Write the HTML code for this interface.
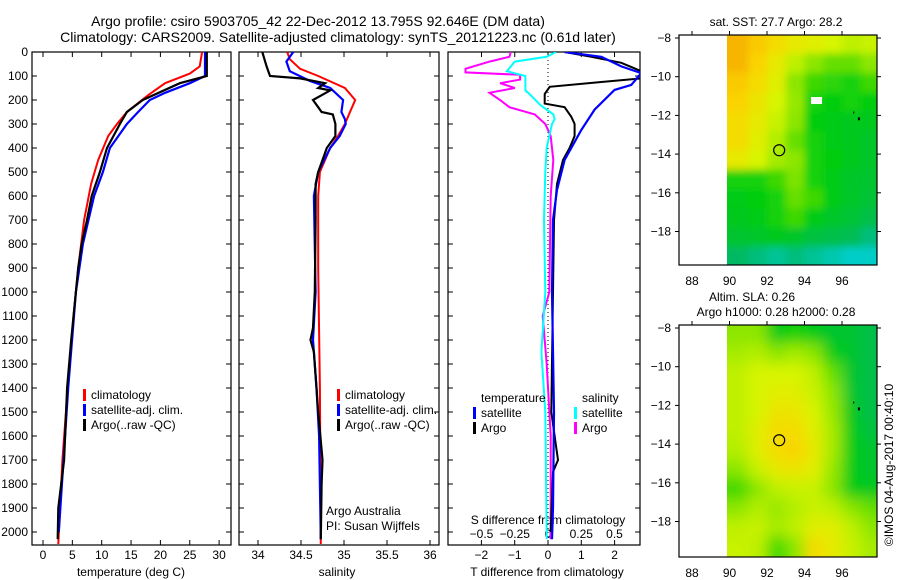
<!DOCTYPE html>
<html><head><meta charset="utf-8">
<style>
body{margin:0;background:#fff;}
svg{display:block;font-family:"Liberation Sans",sans-serif;}
text{fill:#000;}
</style></head>
<body>
<svg id="c" width="900" height="580" xmlns="http://www.w3.org/2000/svg">
<text x="318" y="26" font-size="14" text-anchor="middle">Argo profile: csiro 5903705_42 22-Dec-2012 13.795S 92.646E (DM data)</text>
<text x="338" y="42" font-size="14" text-anchor="middle">Climatology: CARS2009. Satellite-adjusted climatology: synTS_20121223.nc (0.61d later)</text>
<text x="776" y="26" font-size="12" text-anchor="middle">sat. SST: 27.7 Argo: 28.2</text>
<text x="752" y="301" font-size="12" text-anchor="middle">Altim. SLA: 0.26</text>
<text x="776" y="316" font-size="12" text-anchor="middle">Argo h1000: 0.28 h2000: 0.28</text>
<text transform="translate(893,465) rotate(-90)" font-size="12" text-anchor="middle">©IMOS 04-Aug-2017 00:40:10</text>
</svg>
<script>
// ---------- data ----------
const depthTicks=[0,100,200,300,400,500,600,700,800,900,1000,1100,1200,1300,1400,1500,1600,1700,1800,1900,2000];
const tempTicks=[0,5,10,15,20,25,30];
const salTicks=[34,34.5,35,35.5,36];
const tdiffTicks=[-2,-1,0,1,2];
const sdiffTicks=[-0.5,-0.25,0,0.25,0.5];
const sdiffLabels=["-0.5","-0.25","0","0.25","0.5"];

const tArgoDepth=[0,100,130,200,250,300,400,500,600,700,800,900,1000,1200,1400,1700,1900,2030];
const tArgo=[27.9,27.9,23.3,17.0,14.3,13.1,10.9,9.7,8.3,7.5,6.6,6.0,5.6,4.8,4.1,3.6,2.6,2.5];
const tClimDepth=[0,60,90,130,180,250,300,350,450,550,700,900,1100,1400,1700,2050];
const tClim=[27.1,26.7,25.0,20.8,17.9,14.3,12.6,11.1,9.4,8.2,7.0,6.0,5.2,4.2,3.3,2.6];
const tSatDepth=[0,100,130,170,200,250,300,400,500,600,800,1000,1400,1700,2000];
const tSat=[27.6,27.6,25.0,20.8,18.2,16.2,14.3,11.4,10.2,8.7,6.8,5.6,4.3,3.5,2.7];

const sArgoDepth=[0,60,100,110,130,150,160,200,230,250,260,300,350,400,500,550,700,1000,1150,1200,1250,1500,1700,1800,2030];
const sArgo=[34.05,34.10,34.14,34.49,34.78,34.70,34.84,34.64,34.70,34.74,34.87,34.90,34.90,34.80,34.70,34.67,34.67,34.66,34.64,34.61,34.65,34.70,34.75,34.74,34.73];
const sClimDepth=[0,30,70,100,150,200,250,300,350,400,500,600,900,1400,2050];
const sClim=[34.34,34.37,34.49,34.70,35.01,35.13,35.07,35.01,34.93,34.84,34.72,34.70,34.70,34.72,34.73];
const sSatDepth=[0,40,80,120,150,200,250,280,300,350,400,500,600,1000,1200,1400,1600,2030];
const sSat=[34.41,34.33,34.37,34.60,34.84,34.99,34.97,35.01,35.02,34.95,34.84,34.70,34.65,34.67,34.64,34.68,34.71,34.73];

const dTSatDepth=[0,20,60,88,137,158,240,325,450,575,700,1000,1500,1900,2030];
const dTSat=[0.5,1.6,2.2,2.8,2.5,2.0,1.4,1.0,0.5,0.27,0.15,0.12,0.18,0.15,0.12];
const dTArgoDepth=[0,20,45,80,110,125,145,175,215,230,270,300,350,400,450,550,700,1000,1500,1650,1700,1750,2000];
const dTArgo=[0.5,1.3,2.2,2.8,2.8,1.6,0.05,-0.1,-0.1,0.5,0.7,0.8,0.8,0.65,0.45,0.27,0.18,0.15,0.1,0.25,0.3,0.15,0.08];
const dSSatDepth=[0,20,40,80,100,130,160,180,220,260,280,300,350,400,500,700,1000,1250,1500,2030];
const dSSat=[0.06,-0.01,-0.25,-0.31,-0.17,-0.17,-0.17,-0.13,-0.06,0.04,0.05,0.03,0.01,-0.01,-0.02,-0.03,-0.02,-0.05,-0.02,-0.01];
const dSArgoDepth=[0,20,40,70,85,95,115,130,150,170,200,230,260,300,350,450,600,1000,1100,1300,1600,2030];
const dSArgo=[-0.28,-0.29,-0.44,-0.62,-0.62,-0.21,-0.21,-0.36,-0.25,-0.44,-0.36,-0.29,-0.10,-0.02,0.02,0.04,0.02,0.01,-0.04,-0.01,0.02,0.02];

const mapLonTicks=[88,90,92,94,96];
const mapLatTicks=[-8,-10,-12,-14,-16,-18];
const sstGrid=[
[0.95,0.9,0.85,0.8,0.78,0.75,0.7,0.72],
[0.95,0.88,0.8,0.7,0.6,0.55,0.55,0.6],
[0.9,0.85,0.78,0.6,0.5,0.48,0.45,0.5],
[0.88,0.82,0.75,0.62,0.45,0.42,0.45,0.42],
[0.85,0.8,0.72,0.6,0.42,0.4,0.38,0.38],
[0.85,0.78,0.68,0.55,0.45,0.4,0.38,0.36],
[0.8,0.75,0.65,0.6,0.45,0.42,0.38,0.36],
[0.45,0.45,0.5,0.58,0.45,0.4,0.36,0.35],
[0.4,0.42,0.45,0.55,0.5,0.4,0.36,0.34],
[0.38,0.4,0.45,0.5,0.4,0.36,0.34,0.3],
[0.35,0.36,0.38,0.36,0.32,0.3,0.28,0.2],
[0.25,0.2,0.15,0.2,0.15,0.1,0.05,0.05]];
const slaGrid=[
[0.6,0.6,0.4,0.45,0.4,0.35,0.35,0.3],
[0.65,0.68,0.6,0.65,0.6,0.4,0.35,0.3],
[0.7,0.75,0.75,0.75,0.7,0.55,0.35,0.3],
[0.7,0.75,0.78,0.78,0.72,0.6,0.35,0.3],
[0.7,0.75,0.82,0.82,0.75,0.62,0.38,0.3],
[0.7,0.78,0.85,0.85,0.78,0.65,0.4,0.32],
[0.68,0.78,0.85,0.88,0.8,0.65,0.4,0.35],
[0.6,0.72,0.8,0.82,0.78,0.62,0.4,0.35],
[0.5,0.6,0.7,0.72,0.72,0.6,0.4,0.38],
[0.6,0.68,0.62,0.68,0.72,0.7,0.6,0.55],
[0.7,0.72,0.65,0.7,0.78,0.78,0.7,0.6],
[0.72,0.7,0.5,0.6,0.85,0.8,0.72,0.65]];
const argoLon=92.65, argoLat=-13.8;

// ---------- helpers ----------
const svg=document.getElementById('c');
const NS="http://www.w3.org/2000/svg";
function mk(tag,attrs,parent){const e=document.createElementNS(NS,tag);for(const k in attrs)e.setAttribute(k,attrs[k]);(parent||svg).appendChild(e);return e;}
function txt(s,x,y,anchor,size,parent){const t=mk('text',{x:x,y:y,'text-anchor':anchor||'start','font-size':size||12},parent);t.textContent=s;return t;}
const yD=d=>52+d*0.24;
const xT=v=>43+v*5.87;
const xS=v=>258+(v-34)*86;
const xDT=v=>548+v*33.3;
const xDS=v=>548+v*133;
function line(depths,vals,xf,color,name,w,clip){
  const pts=depths.map((d,i)=>xf(vals[i]).toFixed(1)+','+yD(d).toFixed(1)).join(' ');
  const p=mk('polyline',{points:pts,fill:'none',stroke:color,'stroke-width':w||2,'clip-path':clip?'url(#'+clip+')':''});
  
  
}
const defs=mk('defs',{});
function clipRect(id,x,y,w,h){const c=mk('clipPath',{id:id},defs);mk('rect',{x:x,y:y,width:w,height:h},c);}
const f1=mk('filter',{id:'blurA',x:'-10%',y:'-10%',width:'120%',height:'120%'},defs);
mk('feGaussianBlur',{stdDeviation:4},f1);
const f2=mk('filter',{id:'blurB',x:'-10%',y:'-10%',width:'120%',height:'120%'},defs);
mk('feGaussianBlur',{stdDeviation:7},f2);

function panel(name,x0,x1){
  const g=mk('rect',{x:x0,y:52,width:x1-x0,height:493,fill:'none',stroke:'#000','stroke-width':1.2});
  
  
  depthTicks.forEach(d=>{mk('line',{x1:x0,x2:x0+5,y1:yD(d),y2:yD(d),stroke:'#000'});mk('line',{x1:x1-5,x2:x1,y1:yD(d),y2:yD(d),stroke:'#000'});});
}
// ---------- panel 1 ----------
panel('temperature-panel',32,231);
depthTicks.forEach(d=>{const t=txt(String(d),28,yD(d)+4,'end',12);});
tempTicks.forEach(v=>{mk('line',{x1:xT(v),x2:xT(v),y1:545,y2:540,stroke:'#000'});mk('line',{x1:xT(v),x2:xT(v),y1:52,y2:57,stroke:'#000'});txt(String(v),xT(v),559,'middle',12);});
txt('temperature (deg C)',131,576,'middle',12);
clipRect('cp1',32,52,199,493);
line(tClimDepth,tClim,xT,'#f00','temp-climatology-line',2,'cp1');
line(tSatDepth,tSat,xT,'#00f','temp-satellite-line',2.2,'cp1');
line(tArgoDepth,tArgo,xT,'#000','temp-argo-line',2.2,'cp1');
function legend(x,y,items){items.forEach((it,i)=>{mk('rect',{x:x,y:y+i*15-9,width:3,height:12,fill:it[1]});const t=txt(it[0],x+8,y+i*15+1,'start',12);});}
legend(83,398,[['climatology','#f00'],['satellite-adj. clim.','#00f'],['Argo(..raw -QC)','#000']]);
// ---------- panel 2 ----------
panel('salinity-panel',239,439);
salTicks.forEach(v=>{mk('line',{x1:xS(v),x2:xS(v),y1:545,y2:540,stroke:'#000'});mk('line',{x1:xS(v),x2:xS(v),y1:52,y2:57,stroke:'#000'});txt(String(v),xS(v),559,'middle',12);});
txt('salinity',337,576,'middle',12);
clipRect('cp2',239,52,200,493);
line(sClimDepth,sClim,xS,'#f00','sal-climatology-line',2,'cp2');
line(sSatDepth,sSat,xS,'#00f','sal-satellite-line',2.2,'cp2');
line(sArgoDepth,sArgo,xS,'#000','sal-argo-line',2.2,'cp2');
legend(337,398,[['climatology','#f00'],['satellite-adj. clim.','#00f'],['Argo(..raw -QC)','#000']]);
txt('Argo Australia',326,515,'start',12);
txt('PI: Susan Wijffels',326,530,'start',12);
// ---------- panel 3 ----------
panel('difference-panel',448,640);
tdiffTicks.forEach(v=>{mk('line',{x1:xDT(v),x2:xDT(v),y1:545,y2:540,stroke:'#000'});txt(String(v).replace('-','−'),xDT(v),559,'middle',12);});
sdiffTicks.forEach((v,i)=>{mk('line',{x1:xDS(v),x2:xDS(v),y1:52,y2:57,stroke:'#000'});txt(sdiffLabels[i].replace('-','−'),xDS(v),538,'middle',12);});
txt('T difference from climatology',547,576,'middle',12);
txt('S difference from climatology',548,524,'middle',12);
mk('line',{x1:548,x2:548,y1:52,y2:545,stroke:'#000','stroke-dasharray':'1,3'});
clipRect('cp3',448,52,192,493);
line(dSArgoDepth,dSArgo,xDS,'#f0f','sdiff-argo-line',2,'cp3');
line(dSSatDepth,dSSat,xDS,'#0ff','sdiff-satellite-line',2,'cp3');
line(dTArgoDepth,dTArgo,xDT,'#000','tdiff-argo-line',2,'cp3');
line(dTSatDepth,dTSat,xDT,'#00f','tdiff-satellite-line',2.2,'cp3');
txt('temperature',481,402,'start',12);
legend(473,416,[['satellite','#00f'],['Argo','#000']]);
txt('salinity',582,402,'start',12);
legend(574,416,[['satellite','#0ff'],['Argo','#f0f']]);

// ---------- maps ----------
const cstops=[[0,[0,210,225]],[0.25,[0,185,100]],[0.42,[0,205,10]],[0.6,[140,230,0]],[0.75,[215,245,0]],[0.87,[250,215,0]],[1,[245,160,0]]];
function cmap(v){for(let i=1;i<cstops.length;i++){if(v<=cstops[i][0]){const a=cstops[i-1],b=cstops[i];const t=(v-a[0])/(b[0]-a[0]);const c=a[1].map((x,j)=>Math.round(x+(b[1][j]-x)*t));return 'rgb('+c.join(',')+')';}}return 'rgb(245,160,0)';}
const xL=lon=>692+(lon-88)*18.75;
function mapPanel(name,grid,ytop,yLat8,filt){
  const H=ytop===35?230:232;
  const yL=lat=>yLat8+(-8-lat)*19.35;
  const g=mk('g',{});
  
  
  const cid='cm'+ytop;clipRect(cid,727,ytop,150,H);
  const cg=mk('g',{'clip-path':'url(#'+cid+')'},g);
  const bg=mk('g',{filter:'url(#'+filt+')'},cg);
  const nr=grid.length, nc=grid[0].length;
  grid.forEach((row,r)=>row.forEach((v,c)=>{
    let x=xL(90+c), y=yL(-7.8-r), w=19.3, h=19.9;
    if(c===0){x-=30;w+=30;}
    if(c===nc-1){w+=30;}
    if(r===0){y-=30;h+=30;}
    if(r===nr-1){h+=30;}
    const cell=mk('rect',{x:x,y:y,width:w,height:h,fill:cmap(v)},bg);
    
    
  }));
  mk('rect',{x:679,y:ytop,width:198,height:H,fill:'none',stroke:'#000','stroke-width':1.2},g);
  mapLonTicks.forEach(l=>{mk('line',{x1:xL(l),x2:xL(l),y1:ytop,y2:ytop-4,stroke:'#000'},g);txt(String(l),xL(l),ytop+H+20,'middle',12,g);});
  mapLatTicks.forEach(l=>{mk('line',{x1:679,x2:675,y1:yL(l),y2:yL(l),stroke:'#000'},g);mk('line',{x1:877,x2:881,y1:yL(l),y2:yL(l),stroke:'#000'},g);txt(String(l).replace('-','−'),671,yL(l)+4,'end',12,g);});
  const m=mk('circle',{cx:xL(argoLon),cy:yL(argoLat),r:5.5,fill:'none',stroke:'#000','stroke-width':1.2},g);
  
  
  mk('rect',{x:xL(96.85),y:yL(-12.1),width:2,height:3,fill:'#000'},g);
  mk('rect',{x:xL(96.6),y:yL(-11.8),width:1,height:2,fill:'#000'},g);
  return yL;
}
const yL1=mapPanel('sst-map',sstGrid,35,38,'blurA');
const wr=mk('rect',{x:xL(94.35),y:yL1(-11.05),width:11,height:7,fill:'#fff'});


mapPanel('sla-map',slaGrid,325,328,'blurB');
</script>
</body></html>
